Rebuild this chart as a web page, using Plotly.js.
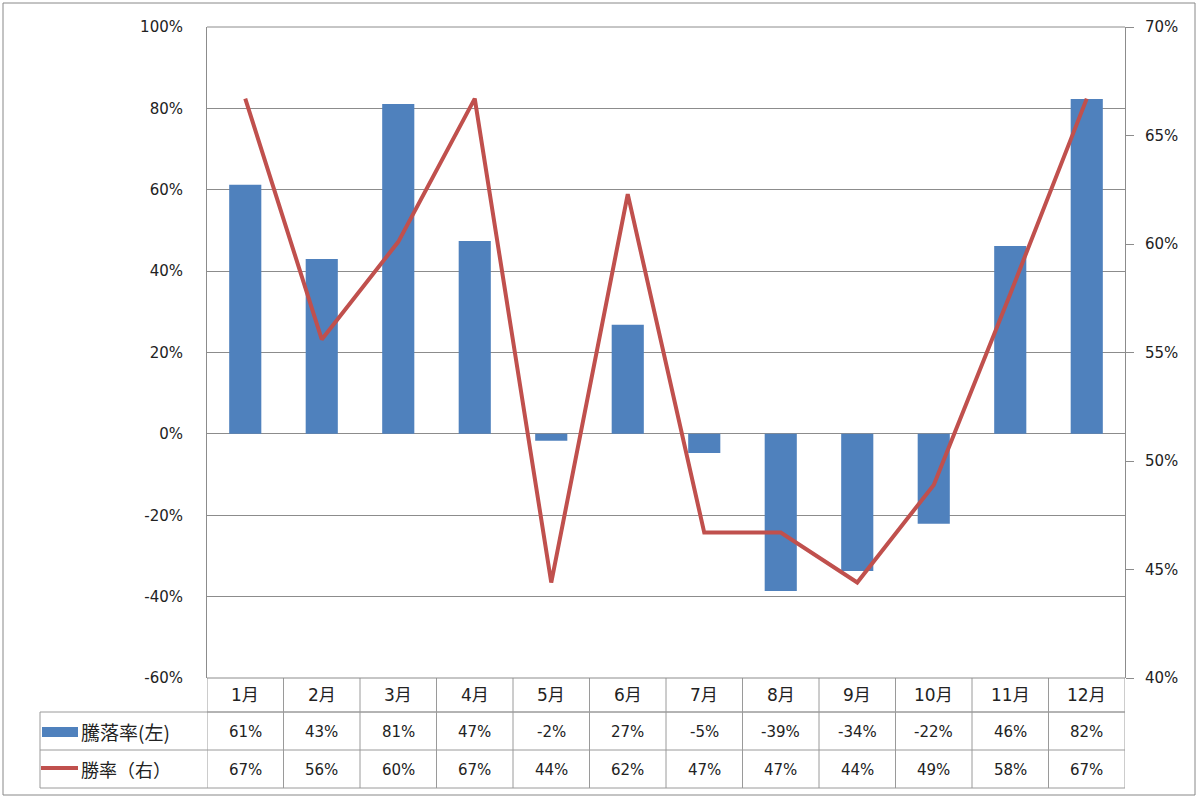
<!DOCTYPE html>
<html><head><meta charset="utf-8">
<script src="https://cdn.plot.ly/plotly-3.0.1.min.js"></script>
<style>html,body{margin:0;padding:0;background:#fff;}#chart{width:1200px;height:801px;}</style>
</head><body><div id="chart"></div>
<script>
const months = ["1月","2月","3月","4月","5月","6月","7月","8月","9月","10月","11月","12月"];
const changeRate = [61.2, 43.0, 81.1, 47.4, -1.7, 26.8, -4.7, -38.6, -33.7, -22.1, 46.2, 82.3];
const winRate = [66.7, 55.6, 60.1, 66.7, 44.4, 62.3, 46.7, 46.7, 44.4, 48.9, 57.7, 66.7];
const seriesNames = ["騰落率(左)", "勝率（右）"];
const leftTicks = [-60, -40, -20, 0, 20, 40, 60, 80, 100];
const rightTicks = [40, 45, 50, 55, 60, 65, 70];

const W = 1200, H = 801, L = 207, R = 1125, T = 27, B = 678;
const pw = R - L, ph = B - T;
const px = x => (x - L) / pw;
const py = y => (B - y) / ph;
const gridC = '#8c8c8c', tableC = '#9a9a9a';
const font = "'DejaVu Sans', 'Noto Sans CJK JP', sans-serif";
const cjk = "'Noto Sans CJK JP', sans-serif";

const shapes = [];
const annotations = [];
shapes.push({type:'rect', xref:'paper', yref:'paper', x0:px(3), x1:px(1195), y0:py(3), y1:py(795), line:{color:'#888', width:1}});
[[L, 712],[40,712],[40,750],[40,788]].forEach(([x0,y]) => {
  shapes.push({type:'line', xref:'paper', yref:'paper', x0:px(x0), x1:px(R), y0:py(y), y1:py(y), line:{color:tableC, width:1}});
});
for (let i = 0; i <= months.length; i++) {
  shapes.push({type:'line', xref:'x', yref:'paper', x0:i-0.5, x1:i-0.5, y0:0, y1:py(788), line:{color:tableC, width:1}});
}
shapes.push({type:'line', xref:'paper', yref:'paper', x0:px(40), x1:px(40), y0:py(712), y1:py(788), line:{color:tableC, width:1}});
shapes.push({type:'rect', xref:'paper', yref:'paper', x0:px(42), x1:px(78), y0:py(737), y1:py(727), fillcolor:'#4F81BD', line:{width:0}});
shapes.push({type:'line', xref:'paper', yref:'paper', x0:px(41), x1:px(78), y0:py(768), y1:py(768), line:{color:'#C0504D', width:4}});
annotations.push({xref:'paper', yref:'paper', x:px(79), y:py(731), text:seriesNames[0], showarrow:false, xanchor:'left', yanchor:'middle', font:{size:19, color:'#222', family:cjk}});
annotations.push({xref:'paper', yref:'paper', x:px(79), y:py(769), text:seriesNames[1], showarrow:false, xanchor:'left', yanchor:'middle', font:{size:18, color:'#222', family:cjk}});

const fmt = v => Math.round(v) + '%';
months.forEach((m, i) => {
  annotations.push({xref:'x', yref:'paper', x:i, y:py(695), text:m, showarrow:false, yanchor:'middle', font:{size:17, color:'#222', family:font}});
  annotations.push({xref:'x', yref:'paper', x:i, y:py(732), text:fmt(changeRate[i]), showarrow:false, yanchor:'middle', font:{size:15, color:'#222', family:font}});
  annotations.push({xref:'x', yref:'paper', x:i, y:py(770), text:fmt(winRate[i]), showarrow:false, yanchor:'middle', font:{size:15, color:'#222', family:font}});
});

shapes.push({type:'line', xref:'paper', yref:'paper', x0:0, x1:1, y0:1, y1:1, line:{color:gridC, width:1}});
shapes.push({type:'line', xref:'paper', yref:'paper', x0:0, x1:1, y0:0, y1:0, line:{color:gridC, width:1}});

const data = [
  {type:'bar', x:months, y:changeRate, name:seriesNames[0], marker:{color:'#4F81BD'}, width:0.42, hoverinfo:'skip'},
  {type:'scatter', mode:'lines', x:months, y:winRate, name:seriesNames[1], yaxis:'y2', line:{color:'#C0504D', width:4}, hoverinfo:'skip'}
];

const layout = {
  width:W, height:H,
  margin:{l:L, r:W-R, t:T, b:H-B, pad:0},
  paper_bgcolor:'#fff', plot_bgcolor:'#fff',
  showlegend:false,
  font:{family:font, size:15, color:'#222'},
  xaxis:{type:'category', range:[-0.5, 11.5], showticklabels:false, ticks:'', showgrid:false, zeroline:false, showline:false, fixedrange:true},
  yaxis:{range:[-60, 100], tickvals:leftTicks, ticktext:leftTicks.map(v=>v+'%'), showgrid:true, gridcolor:gridC, gridwidth:1, zeroline:false, showline:true, linecolor:gridC, ticks:'', ticklabelstandoff:20, tickfont:{size:15, family:font, color:'#222'}},
  yaxis2:{range:[40, 70], overlaying:'y', side:'right', tickvals:rightTicks, ticktext:rightTicks.map(v=>v+'%'), showgrid:false, zeroline:false, showline:true, linecolor:gridC, ticks:'outside', ticklen:8, tickcolor:gridC, ticklabelstandoff:8, tickfont:{size:15, family:font, color:'#222'}},
  shapes, annotations
};

Plotly.newPlot('chart', data, layout, {displayModeBar:false, staticPlot:true});
</script></body></html>
